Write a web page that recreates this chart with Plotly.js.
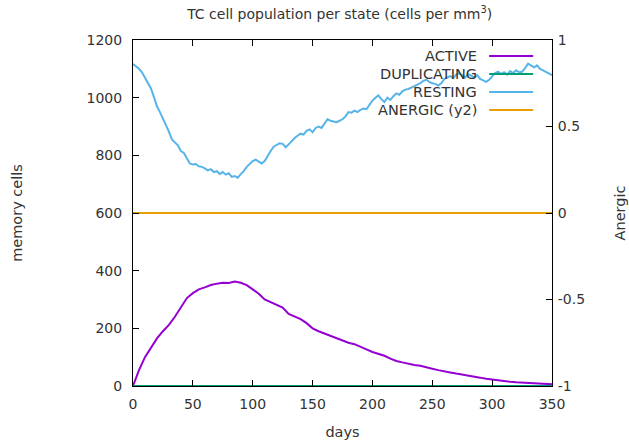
<!DOCTYPE html>
<html><head><meta charset="utf-8">
<script src="https://cdn.plot.ly/plotly-3.0.1.min.js"></script>
<style>html,body{margin:0;padding:0;background:#fff}#c{width:629px;height:444px}</style>
</head><body><div id="c"></div>
<script>
const seriesNames = ["ACTIVE", "DUPLICATING", "RESTING", "ANERGIC (y2)"];
const seriesColors = ["#9400d3", "#009e73", "#56b4e9", "#e69f00"];

const daysActive = [0,5,10,15,20,25,30,35,40,45,50,55,60,65,70,75,80,85,90,95,100,105,110,115,120,125,130,135,140,145,150,155,160,165,170,175,180,185,190,195,200,205,210,215,220,225,230,235,240,245,250,255,260,265,270,275,280,285,290,295,300,305,310,315,320,325,330,335,340,345,350];
const active = [0,55,100,135,165,190,212,240,275,305,322,335,342,350,355,358,357,362,358,350,335,320,300,290,282,272,250,242,232,218,200,190,182,175,165,158,150,145,135,127,118,112,105,95,87,82,77,73,70,66,60,55,50,47,43,40,37,33,29,25,22,19,17,15,13,12,11,10,8,7,6];

const daysResting = [0,2.5,5,7.5,10,12.5,15,17.5,20,22.5,25,27.5,30,32.5,35,37.5,40,42.5,45,47.5,50,52.5,55,57.5,60,62.5,65,67.5,70,72.5,75,77.5,80,82.5,85,87.5,90,92.5,95,97.5,100,102.5,105,107.5,110,112.5,115,117.5,120,122.5,125,127.5,130,132.5,135,137.5,140,142.5,145,147.5,150,152.5,155,157.5,160,162.5,165,167.5,170,172.5,175,177.5,180,182.5,185,187.5,190,192.5,195,197.5,200,202.5,205,207.5,210,212.5,215,217.5,220,222.5,225,227.5,230,232.5,235,237.5,240,242.5,245,247.5,250,252.5,255,257.5,260,262.5,265,267.5,270,272.5,275,277.5,280,282.5,285,287.5,290,292.5,295,297.5,300,302.5,305,307.5,310,312.5,315,317.5,320,322.5,325,327.5,330,332.5,335,337.5,340,342.5,345,347.5,350];
const resting = [1117,1110,1100,1088,1070,1052,1032,1002,970,950,928,910,882,855,845,835,815,808,790,772,768,770,762,760,755,748,752,742,745,735,742,733,738,725,728,722,735,745,760,770,780,785,778,772,780,800,815,830,835,842,840,828,838,850,860,868,875,872,885,890,880,895,900,895,910,925,920,918,915,920,925,935,950,948,955,950,958,962,960,975,990,1000,1008,995,985,1000,992,1005,1015,1010,1022,1028,1030,1035,1040,1045,1050,1058,1062,1055,1050,1048,1042,1050,1065,1070,1075,1068,1080,1085,1078,1070,1082,1075,1070,1078,1065,1060,1055,1062,1075,1085,1090,1082,1088,1080,1092,1085,1095,1088,1090,1102,1118,1110,1105,1112,1100,1095,1090,1085,1078];

const daysFlat = [0, 350];
const duplicating = [0, 0];
const anergic = [0, 0];

const xTicks = [0,50,100,150,200,250,300,350];
const yTicks = [0,200,400,600,800,1000,1200];
const y2Ticks = [-1,-0.5,0,0.5,1];
const y2TickText = ["-1","-0.5","0","0.5","1"];

const F = "DejaVu Sans, sans-serif";
const TC = "#333333";

const traces = [
  {x: daysActive, y: active, name: seriesNames[0], type: "scatter", mode: "lines", line: {color: seriesColors[0], width: 2}},
  {x: daysFlat, y: duplicating, name: seriesNames[1], type: "scatter", mode: "lines", line: {color: seriesColors[1], width: 2}},
  {x: daysResting, y: resting, name: seriesNames[2], type: "scatter", mode: "lines", line: {color: seriesColors[2], width: 2}},
  {x: daysFlat, y: anergic, name: seriesNames[3], type: "scatter", mode: "lines", yaxis: "y2", line: {color: seriesColors[3], width: 2}}
];

const legX0 = 0.85, legX1 = 0.955, legTextX = 0.826;
const legY = [0.954, 0.902, 0.850, 0.798];
const annotations = seriesNames.map((n, i) => ({
  xref: "paper", yref: "paper", x: legTextX, y: legY[i], text: n, showarrow: false,
  xanchor: "right", yanchor: "middle", font: {family: F, size: 14.5, color: TC}
}));
const shapes = seriesNames.map((n, i) => ({
  type: "line", xref: "paper", yref: "paper", x0: legX0, x1: legX1, y0: legY[i], y1: legY[i],
  line: {color: seriesColors[i], width: 2}
}));

const layout = {
  width: 629, height: 444,
  margin: {l: 133, r: 77, t: 40, b: 58},
  paper_bgcolor: "#fff", plot_bgcolor: "#fff",
  showlegend: false,
  font: {family: F, size: 14, color: TC},
  title: {text: "TC cell population per state (cells per mm<sup>3</sup>)", x: 0.54, xanchor: "center", y: 0.968, yanchor: "middle", font: {family: F, size: 14, color: TC}},
  xaxis: {range: [0, 350], tickvals: xTicks, ticks: "inside", ticklen: 6, tickcolor: "#000", showline: true, linecolor: "#000", linewidth: 1, mirror: "ticks", showgrid: false, zeroline: false,
    ticklabelstandoff: 5, tickfont: {family: F, size: 14, color: TC},
    title: {text: "days", font: {family: F, size: 14.5, color: TC}, standoff: 16}},
  yaxis: {range: [0, 1200], tickvals: yTicks, ticks: "inside", ticklen: 6, tickcolor: "#000", showline: true, linecolor: "#000", linewidth: 1, showgrid: false, zeroline: false,
    ticklabelstandoff: 7, tickfont: {family: F, size: 14, color: TC},
    title: {text: "memory cells", font: {family: F, size: 14.5, color: TC}, standoff: 60}},
  yaxis2: {range: [-1, 1], overlaying: "y", side: "right", tickvals: y2Ticks, ticktext: y2TickText, ticks: "inside", ticklen: 6, tickcolor: "#000", showline: true, linecolor: "#000", linewidth: 1, showgrid: false, zeroline: false,
    ticklabelstandoff: 2, tickfont: {family: F, size: 14, color: TC},
    title: {text: "Anergic", font: {family: F, size: 14.5, color: TC}, standoff: 30}},
  annotations: annotations,
  shapes: shapes
};

Plotly.newPlot("c", traces, layout, {displayModeBar: false, staticPlot: true});
</script>
</body></html>
